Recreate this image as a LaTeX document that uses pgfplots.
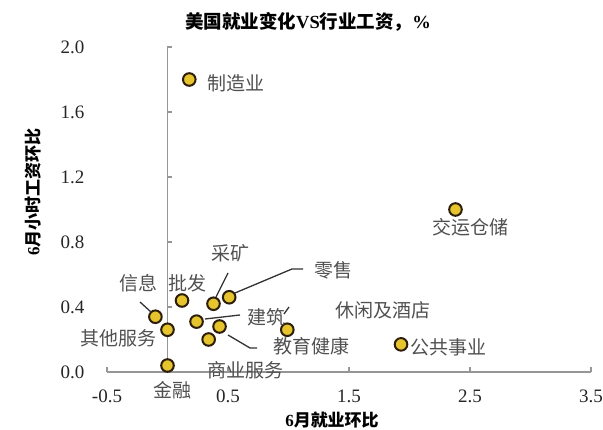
\documentclass[border=0pt]{standalone}
\usepackage{fontspec}
\setmainfont{Liberation Serif}
\newfontfamily\cjk{Noto Sans CJK SC}
\usepackage{pgfplots}
\pgfplotsset{compat=1.18}
\usepackage{pgfplotstable}

\pgfplotstableread{
x y
0.18 1.80
2.38 1.00
1.93 0.17
0.99 0.26
-0.10 0.34
0.00 0.26
0.00 0.04
0.12 0.44
0.38 0.42
0.51 0.46
0.24 0.31
0.43 0.28
0.34 0.20
}\data

\definecolor{dotfill}{RGB}{230,196,45}
\definecolor{dotedge}{RGB}{45,30,10}
\definecolor{axgray}{RGB}{150,150,150}
\definecolor{lblgray}{RGB}{80,80,80}
\newcommand\Q[2]{({#1pt-107pt},{372pt-#2pt})}

\begin{document}
\begin{tikzpicture}[
  lbl/.style={font=\cjk\fontsize{19}{19}\selectfont, text=lblgray, inner sep=0pt},
  leader/.style={draw=black!80, line width=1.3pt}]
\path[use as bounding box] (-107pt,-58pt) rectangle (496pt,372pt);
\begin{axis}[
  at={(0,0)}, anchor=south west,
  scale only axis, width=484pt, height=325pt,
  xmin=-0.5, xmax=3.5, ymin=0, ymax=2,
  enlargelimits=false,
  axis x line=bottom, axis y line=left,
  x axis line style={draw=axgray, line width=1.3pt, -},
  y axis line style={draw=none},
  xtick={-0.5,0.5,1.5,2.5,3.5},
  ytick={0,0.4,0.8,1.2,1.6,2.0},
  xtick style={draw=axgray, line width=1.2pt},
  ytick style={draw=none},
  major tick length=5pt,
  tick align=inside,
  xticklabel style={font=\fontsize{19}{19}\selectfont, text=black!85, yshift=-14pt},
  yticklabel style={font=\fontsize{19}{19}\selectfont, text=black!85, xshift=-19pt},
  /pgf/number format/fixed, /pgf/number format/fixed zerofill,
  /pgf/number format/precision=1,
  /pgf/number format/assume math mode=true,
  clip=false,
]
\draw[axgray, line width=1.3pt] (axis cs:0,0) -- (axis cs:0,2);
\draw[axgray, line width=1.2pt] (axis cs:0,0.4) -- ([xshift=5pt]axis cs:0,0.4);
\draw[axgray, line width=1.2pt] (axis cs:0,0.8) -- ([xshift=5pt]axis cs:0,0.8);
\draw[axgray, line width=1.2pt] (axis cs:0,1.2) -- ([xshift=5pt]axis cs:0,1.2);
\draw[axgray, line width=1.2pt] (axis cs:0,1.6) -- ([xshift=5pt]axis cs:0,1.6);
\draw[axgray, line width=1.2pt] (axis cs:0,2.0) -- ([xshift=5pt]axis cs:0,2.0);
\addplot[only marks, mark=*, mark size=6.3pt,
  mark options={fill=dotfill, draw=dotedge, line width=2pt}] table {\data};
\end{axis}
% leader lines
\draw[leader] \Q{140}{302} -- \Q{151}{312};
\draw[leader] \Q{228}{273} -- \Q{216}{297};
\draw[leader] \Q{303}{269} -- \Q{292}{269} -- \Q{235}{293};
\draw[leader] \Q{240}{315} -- \Q{205}{319};
\draw[leader] \Q{284}{314} -- \Q{289}{307};
\draw[leader] \Q{257}{348} -- \Q{250}{348} -- \Q{228}{335};
% labels
\node[lbl] at \Q{236}{83} {制造业};
\node[lbl] at \Q{470}{227} {交运仓储};
\node[lbl] at \Q{448}{347} {公共事业};
\node[lbl] at \Q{383}{310} {休闲及酒店};
\node[lbl] at \Q{139}{283} {信息};
\node[lbl] at \Q{188}{283} {批发};
\node[lbl] at \Q{230}{253} {采矿};
\node[lbl] at \Q{333}{270} {零售};
\node[lbl] at \Q{266}{317} {建筑};
\node[lbl] at \Q{311}{346} {教育健康};
\node[lbl] at \Q{245}{370} {商业服务};
\node[lbl] at \Q{119}{338} {其他服务};
\node[lbl] at \Q{173}{390} {金融};
% titles
\node[font=\cjk\bfseries\fontsize{18.5}{18.5}\selectfont, inner sep=0pt] at \Q{308}{22}
  {美国就业变化{\rmfamily\bfseries VS}行业工资，{\rmfamily\bfseries\%}};
\node[font=\cjk\bfseries\fontsize{17}{17}\selectfont, inner sep=0pt] at \Q{332}{420}
  {{\rmfamily\bfseries 6}月就业环比};
\node[font=\cjk\bfseries\fontsize{17}{17}\selectfont, inner sep=0pt, rotate=90] at \Q{33}{192}
  {{\rmfamily\bfseries 6}月小时工资环比};
\end{tikzpicture}
\end{document}
